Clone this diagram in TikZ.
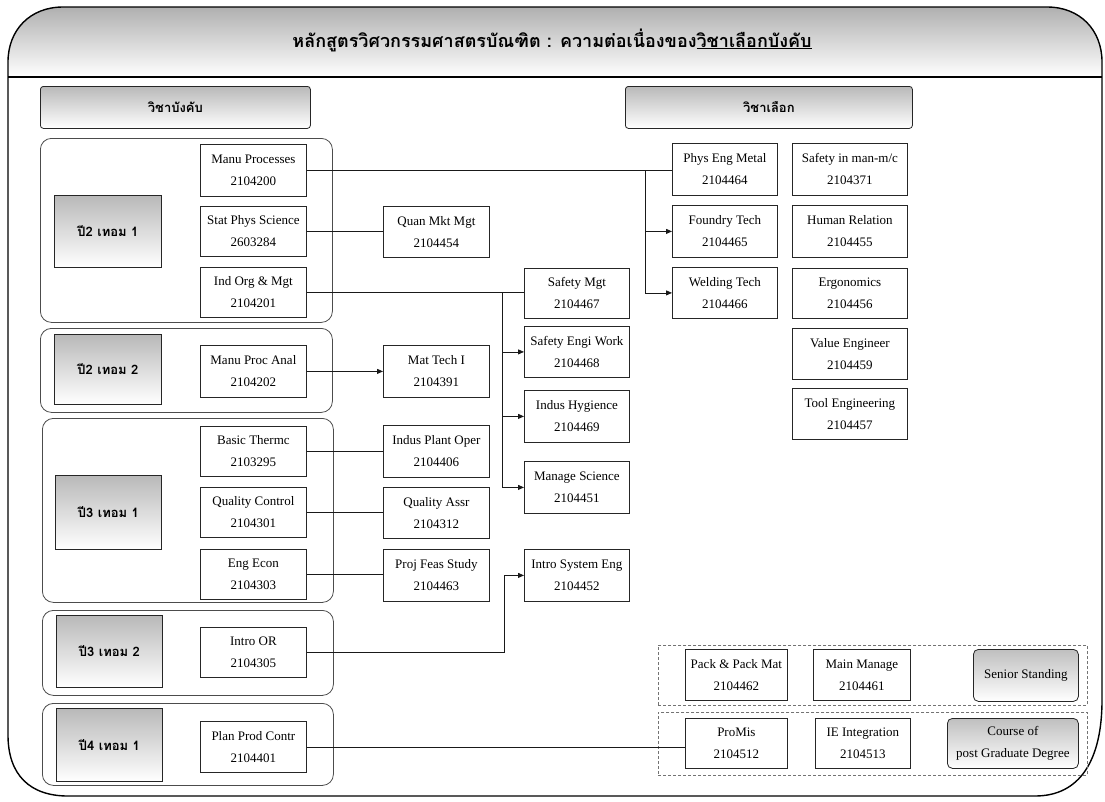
\documentclass[tikz,border=0pt]{standalone}
\usepackage{fontspec}
\setmainfont{Liberation Serif}
\newfontfamily\thai[Script=Thai]{Loma}
\usetikzlibrary{arrows.meta}
\begin{document}
\begin{tikzpicture}[x=1pt,y=-1pt,
  cbox/.style={draw=black!85, line width=0.8pt, fill=white, align=center, inner sep=0pt, anchor=north west, font=\fontsize{13}{22}\selectfont},
  gbox/.style={cbox, rounded corners=5pt, top color=gray!50, middle color=gray!22, bottom color=white},
  grp/.style={draw=black!70, line width=0.8pt, rounded corners=11pt, inner sep=0pt, anchor=north west},
  lbl/.style={draw=black!85, line width=0.8pt, top color=gray!55, middle color=gray!22, bottom color=white, inner sep=0pt, anchor=north west, font=\thai\bfseries\fontsize{13}{15}\selectfont},
  hbox/.style={lbl, rounded corners=3pt},
  dbox/.style={draw=black!55, densely dashed, line width=0.5pt, inner sep=0pt, anchor=north west},
  conn/.style={line width=0.8pt, black!90},
  arr/.style={conn, -{Triangle[length=6pt,width=5pt]}},
]
\useasboundingbox (0,0) rectangle (1105,801);
% header band
\shade[top color=gray!62, middle color=gray!42, bottom color=white]
  (8,77) -- (8,62) .. controls (8,30) and (30,7) .. (63,7) -- (1047,7)
  .. controls (1080,7) and (1102,30) .. (1102,62) -- (1102,77) -- cycle;
% frame
\draw[line width=1.4pt]
  (8,77) -- (8,62) .. controls (8,30) and (30,7) .. (63,7) -- (1047,7)
  .. controls (1080,7) and (1102,30) .. (1102,62) -- (1102,700)
  .. controls (1102,760) and (1080,796) .. (1035,796) -- (68,796)
  .. controls (30,796) and (8,775) .. (8,735) -- cycle;
\draw[line width=1.3pt] (8,77) -- (1102,77);
\node[font=\thai\bfseries\fontsize{18}{20}\selectfont] (title) at (552,40)
  {หลักสูตรวิศวกรรมศาสตรบัณฑิต : ความต่อเนื่องของ\underline{วิชาเลือกบังคับ}};
% header boxes
\node[hbox, minimum width=270pt, minimum height=42pt] (hl) at (40,86) {วิชาบังคับ};
\node[hbox, minimum width=287pt, minimum height=42pt] (hr) at (625,86) {วิชาเลือก};
% groups
\node[grp, minimum width=292pt, minimum height=184pt] (g1) at (40,138) {};
\node[grp, minimum width=292pt, minimum height=84pt] (g2) at (40,328) {};
\node[grp, minimum width=291pt, minimum height=184pt] (g3) at (42,418) {};
\node[grp, minimum width=291pt, minimum height=85pt] (g4) at (42,610) {};
\node[grp, minimum width=291pt, minimum height=82pt] (g5) at (42,703) {};
\node[lbl, minimum width=107pt, minimum height=72pt] (l1) at (54,195) {ปี2 เทอม 1};
\node[lbl, minimum width=107pt, minimum height=70pt] (l2) at (54,334) {ปี2 เทอม 2};
\node[lbl, minimum width=106pt, minimum height=74pt] (l3) at (55,475) {ปี3 เทอม 1};
\node[lbl, minimum width=106pt, minimum height=72pt] (l4) at (56,615) {ปี3 เทอม 2};
\node[lbl, minimum width=106pt, minimum height=73pt] (l5) at (56,708) {ปี4 เทอม 1};
% column 1
\node[cbox, minimum width=106pt, minimum height=52pt] (mp) at (200,144) {Manu Processes\\2104200};
\node[cbox, minimum width=106pt, minimum height=50pt] (sps) at (200,206) {Stat Phys Science\\2603284};
\node[cbox, minimum width=106pt, minimum height=50pt] (iom) at (200,267) {Ind Org \& Mgt\\2104201};
\node[cbox, minimum width=106pt, minimum height=52pt] (mpa) at (200,345) {Manu Proc Anal\\2104202};
\node[cbox, minimum width=106pt, minimum height=50pt] (bt) at (200,426) {Basic Thermc\\2103295};
\node[cbox, minimum width=106pt, minimum height=50pt] (qc) at (200,487) {Quality Control\\2104301};
\node[cbox, minimum width=106pt, minimum height=50pt] (ee) at (200,549) {Eng Econ\\2104303};
\node[cbox, minimum width=106pt, minimum height=50pt] (ior) at (200,627) {Intro OR\\2104305};
\node[cbox, minimum width=106pt, minimum height=51pt] (ppc) at (200,721) {Plan Prod Contr\\2104401};
% column 2
\node[cbox, minimum width=106pt, minimum height=51pt] (qmm) at (383,206) {Quan Mkt Mgt\\2104454};
\node[cbox, minimum width=106pt, minimum height=52pt] (mt) at (383,345) {Mat Tech I\\2104391};
\node[cbox, minimum width=106pt, minimum height=52pt] (ipo) at (383,425) {Indus Plant Oper\\2104406};
\node[cbox, minimum width=106pt, minimum height=51pt] (qa) at (383,487) {Quality Assr\\2104312};
\node[cbox, minimum width=106pt, minimum height=52pt] (pfs) at (383,549) {Proj Feas Study\\2104463};
% column 3
\node[cbox, minimum width=105pt, minimum height=50pt] (sm) at (524,268) {Safety Mgt\\2104467};
\node[cbox, minimum width=105pt, minimum height=51pt] (sew) at (524,326) {Safety Engi Work\\2104468};
\node[cbox, minimum width=105pt, minimum height=52pt] (ih) at (524,390) {Indus Hygience\\2104469};
\node[cbox, minimum width=105pt, minimum height=52pt] (ms) at (524,461) {Manage Science\\2104451};
\node[cbox, minimum width=105pt, minimum height=52pt] (ise) at (524,549) {Intro System Eng\\2104452};
% column 4
\node[cbox, minimum width=105pt, minimum height=52pt] (pem) at (672,143) {Phys Eng Metal\\2104464};
\node[cbox, minimum width=105pt, minimum height=52pt] (ft) at (672,205) {Foundry Tech\\2104465};
\node[cbox, minimum width=105pt, minimum height=51pt] (wt) at (672,267) {Welding Tech\\2104466};
% column 5
\node[cbox, minimum width=115pt, minimum height=52pt] (sim) at (792,143) {Safety in man-m/c\\2104371};
\node[cbox, minimum width=115pt, minimum height=52pt] (hrel) at (792,205) {Human Relation\\2104455};
\node[cbox, minimum width=115pt, minimum height=50pt] (erg) at (792,268) {Ergonomics\\2104456};
\node[cbox, minimum width=115pt, minimum height=51pt] (ve) at (792,328) {Value Engineer\\2104459};
\node[cbox, minimum width=115pt, minimum height=51pt] (te) at (792,388) {Tool Engineering\\2104457};
% bottom right
\node[dbox, minimum width=429pt, minimum height=60pt] (d1) at (658,645) {};
\node[dbox, minimum width=429pt, minimum height=63pt] (d2) at (658,712) {};
\node[cbox, minimum width=102pt, minimum height=51pt] (pp) at (685,649) {Pack \& Pack Mat\\2104462};
\node[cbox, minimum width=97pt, minimum height=51pt] (mm) at (813,649) {Main Manage\\2104461};
\node[gbox, minimum width=105pt, minimum height=52pt] (ss) at (973,649) {Senior Standing};
\node[cbox, minimum width=102pt, minimum height=50pt] (pm) at (685,718) {ProMis\\2104512};
\node[cbox, minimum width=95pt, minimum height=50pt] (iei) at (815,718) {IE Integration\\2104513};
\node[gbox, minimum width=131pt, minimum height=50pt] (cpg) at (947,718) {Course of\\post Graduate Degree};
% connectors
\coordinate (j1) at (645,170);
\coordinate (j2) at (502,292);
\coordinate (j3) at (504,652);
\draw[conn, line width=1.3pt] (mp.east) -- (mp.east -| pem.west);
\draw[arr] (mp.east -| j1) |- (ft.west);
\draw[arr] (mp.east -| j1) |- (wt.west);
\draw[conn] (sps.east) -- (sps.east -| qmm.west);
\draw[conn] (iom.east) -- (iom.east -| sm.west);
\draw[arr] (iom.east -| j2) |- (sew.west);
\draw[arr] (iom.east -| j2) |- (ih.west);
\draw[arr] (iom.east -| j2) |- (ms.west);
\draw[arr] (mpa.east) -- (mpa.east -| mt.west);
\draw[conn] (bt.east) -- (bt.east -| ipo.west);
\draw[conn] (qc.east) -- (qc.east -| qa.west);
\draw[conn] (ee.east) -- (ee.east -| pfs.west);
\draw[arr] (ior.east) -- (ior.east -| j3) |- (ise.west);
\draw[conn] (ppc.east) -- (ppc.east -| pm.west);
\end{tikzpicture}
\end{document}
